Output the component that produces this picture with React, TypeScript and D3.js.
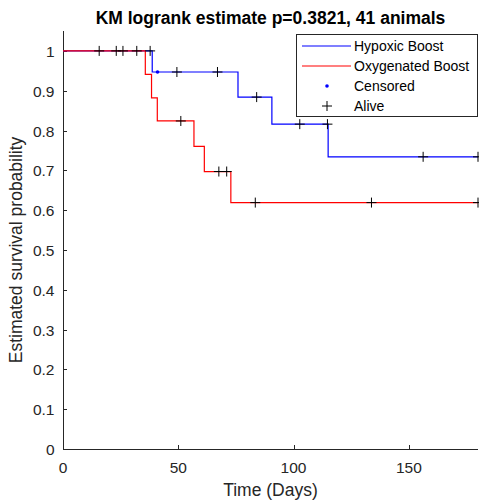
import React from 'react';
import * as d3 from 'd3';

// Kaplan-Meier steps
const hypoxicTimes = [0, 38.7, 75.9, 90.6, 115];
const hypoxicSurv = [1, 0.947, 0.884, 0.816, 0.734];
const hypoxicAlive = [15.7, 23.1, 26, 32, 37.8, 49.4, 67, 84, 102.7, 114.7, 156.2, 180];
const hypoxicCensored = [41];

const oxyTimes = [0, 35.7, 38.4, 40.9, 56.8, 61.3, 72.8];
const oxySurv = [1, 0.941, 0.882, 0.824, 0.76, 0.697, 0.619];
const oxyAlive = [51.1, 67.6, 71, 83.4, 133.8, 180];

const xTicks = [0, 50, 100, 150];
const yTicks = [0, 0.1, 0.2, 0.3, 0.4, 0.5, 0.6, 0.7, 0.8, 0.9, 1];
const legendItems = ['Hypoxic Boost', 'Oxygenated Boost', 'Censored', 'Alive'];

const W = 479;
const H = 504;
const font = 'Liberation Sans, Arial, sans-serif';
const axisColor = '#262626';

const x = d3.scaleLinear().domain([0, 180]).range([63, 478]);
const y = d3.scaleLinear().domain([0, 1.05]).range([449, 31]);

const stepAt = (times: number[], surv: number[], t: number) => {
  let v = surv[0];
  times.forEach((tt, i) => {
    if (t >= tt) v = surv[i];
  });
  return v;
};

const stepPath = (times: number[], surv: number[]) => {
  const pts: [number, number][] = times.map((t, i) => [t, surv[i]]);
  pts.push([180, surv[surv.length - 1]]);
  return d3
    .line<[number, number]>()
    .x(d => x(d[0]))
    .y(d => y(d[1]))
    .curve(d3.curveStepAfter)(pts) as string;
};

const Plus = ({ cx, cy }: { cx: number; cy: number }) => (
  <g stroke="#000" strokeWidth={1}>
    <line x1={cx - 5} x2={cx + 5} y1={cy} y2={cy} />
    <line x1={cx} x2={cx} y1={cy - 5} y2={cy + 5} />
  </g>
);

export default function App() {
  const colors = ['#0000ff', '#ff0000'];
  return (
    <svg
      width={W}
      height={H}
      style={{ position: 'absolute', left: 0, top: 0, background: '#fff' }}
      fontFamily={font}
    >
      <rect width={W} height={H} fill="#fff" />
      {/* axes */}
      <line x1={63.5} x2={63.5} y1={31} y2={449.5} stroke={axisColor} />
      <line x1={63} x2={478} y1={449.5} y2={449.5} stroke={axisColor} />
      {yTicks.map(t => (
        <g key={'y' + t}>
          <line x1={63} x2={67} y1={Math.round(y(t)) + 0.5} y2={Math.round(y(t)) + 0.5} stroke={axisColor} />
          <text x={54.5} y={y(t) + 6} textAnchor="end" fontSize={15.5} fill={axisColor}>
            {t}
          </text>
        </g>
      ))}
      {xTicks.map(t => (
        <g key={'x' + t}>
          <line x1={Math.round(x(t)) + 0.5} x2={Math.round(x(t)) + 0.5} y1={449} y2={445} stroke={axisColor} />
          <text x={x(t)} y={472.5} textAnchor="middle" fontSize={15.5} fill={axisColor}>
            {t}
          </text>
        </g>
      ))}
      <text x={270.5} y={496} textAnchor="middle" fontSize={17.5} fill={axisColor}>
        Time (Days)
      </text>
      <text
        transform={`translate(22,${y(0.5)}) rotate(-90)`}
        textAnchor="middle"
        fontSize={17.5}
        fill={axisColor}
      >
        Estimated survival probability
      </text>
      <text x={270.5} y={24} textAnchor="middle" fontSize={17.5} fontWeight="bold" fill="#000">
        KM logrank estimate p=0.3821, 41 animals
      </text>

      {/* curves */}
      <path d={stepPath(hypoxicTimes, hypoxicSurv)} fill="none" stroke={colors[0]} strokeWidth={1.2} />
      <path d={stepPath(oxyTimes, oxySurv)} fill="none" stroke={colors[1]} strokeWidth={1.2} />
      {hypoxicCensored.map(t => (
        <circle key={'c' + t} cx={x(t)} cy={y(stepAt(hypoxicTimes, hypoxicSurv, t))} r={1.8} fill={colors[0]} />
      ))}
      {hypoxicAlive.map(t => (
        <Plus key={'h' + t} cx={x(t)} cy={y(stepAt(hypoxicTimes, hypoxicSurv, t))} />
      ))}
      {oxyAlive.map(t => (
        <Plus key={'o' + t} cx={x(t)} cy={y(stepAt(oxyTimes, oxySurv, t))} />
      ))}

      {/* legend */}
      <g>
        <rect x={296.5} y={34.5} width={181} height={82} fill="#fff" stroke={axisColor} strokeWidth={1} />
        {legendItems.map((name, i) => {
          const ly = 46 + i * 20;
          return (
            <g key={name}>
              {i < 2 && <line x1={302} x2={351} y1={ly} y2={ly} stroke={colors[i]} strokeWidth={1.2} />}
              {i === 2 && <circle cx={327} cy={ly} r={1.8} fill={colors[0]} />}
              {i === 3 && <Plus cx={327} cy={ly} />}
              <text x={354} y={ly + 5} fontSize={14} fill="#000">
                {name}
              </text>
            </g>
          );
        })}
      </g>
    </svg>
  );
}
